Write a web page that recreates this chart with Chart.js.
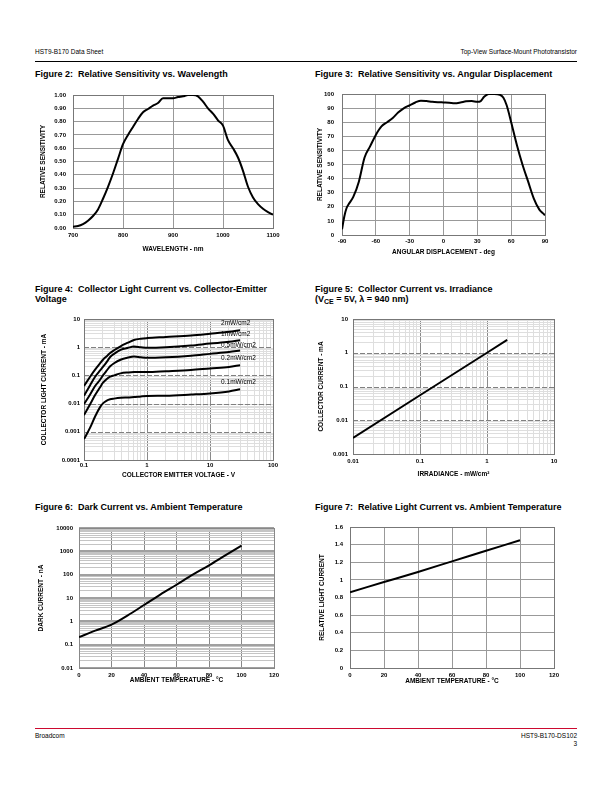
<!DOCTYPE html>
<html>
<head>
<meta charset="utf-8">
<script src="https://cdn.jsdelivr.net/npm/chart.js@4.4.1/dist/chart.umd.min.js"></script>
<style>
  html, body { margin: 0; padding: 0; background: #fff; }
  body { position: relative; width: 612px; height: 792px; overflow: hidden;
         font-family: "Liberation Sans", Arial, Helvetica, sans-serif; color: #000; }
  .txt { position: absolute; white-space: nowrap; line-height: 1; }
  .small { font-size: 6.5px; }
  .fig { font-size: 9px; font-weight: bold; line-height: 10px; }
  .rule { position: absolute; left: 35px; width: 542px; }
  canvas { position: absolute; }
</style>
</head>
<body>

<div class="txt small" style="left:35px; top:49px">HST9-B170 Data Sheet</div>
<div class="txt small" style="right:35px; top:49px">Top-View Surface-Mount Phototransistor</div>
<div class="rule" style="top:61px; height:1px; background:#000"></div>

<div class="txt fig" style="left:35px; top:69px">Figure 2:&nbsp; Relative Sensitivity vs. Wavelength</div>
<div class="txt fig" style="left:315px; top:69px">Figure 3:&nbsp; Relative Sensitivity vs. Angular Displacement</div>
<div class="txt fig" style="left:35px; top:284px">Figure 4:&nbsp; Collector Light Current vs. Collector-Emitter<br>Voltage</div>
<div class="txt fig" style="left:315px; top:284px">Figure 5:&nbsp; Collector Current vs. Irradiance<br>(V<span style="font-size:7px; vertical-align:-2px">CE</span> = 5V, &lambda; = 940 nm)</div>
<div class="txt fig" style="left:35px; top:502px">Figure 6:&nbsp; Dark Current vs. Ambient Temperature</div>
<div class="txt fig" style="left:315px; top:502px">Figure 7:&nbsp; Relative Light Current vs. Ambient Temperature</div>

<div class="rule" style="top:728px; height:1px; background:#cc092f"></div>
<div class="txt small" style="left:35px; top:733px">Broadcom</div>
<div class="txt small" style="right:35px; top:733px">HST9-B170-DS102</div>
<div class="txt small" style="right:35px; top:741px">3</div>

<script>
// ---- Figure 2 : relative sensitivity vs wavelength
const wavelengthNm = [700, 710, 720, 730, 740, 750, 760, 770, 780, 790, 800, 810, 820, 830, 840, 850, 860, 870, 880, 890,
                      900, 910, 920, 930, 940, 950, 960, 970, 980, 990, 1000, 1010, 1020, 1030, 1040, 1050, 1060, 1070, 1080, 1090, 1100];
const sensByWavelength = [0.01, 0.015, 0.03, 0.055, 0.09, 0.14, 0.22, 0.31, 0.41, 0.52, 0.63, 0.70, 0.76, 0.82, 0.87, 0.895, 0.92, 0.94, 0.975, 0.975,
                          0.975, 0.985, 0.99, 1.0, 1.0, 0.99, 0.95, 0.90, 0.86, 0.81, 0.77, 0.66, 0.60, 0.53, 0.43, 0.31, 0.23, 0.18, 0.145, 0.12, 0.10];
const fig2XTicks = [700, 800, 900, 1000, 1100];
const fig2YTicks = [0, 0.1, 0.2, 0.3, 0.4, 0.5, 0.6, 0.7, 0.8, 0.9, 1.0];

// ---- Figure 3 : relative sensitivity vs angle
const angleDeg = [-90, -88, -86, -84, -80, -75, -70, -65, -60, -55, -50, -45, -40, -35, -30, -25, -20, -15, -10, -5, 0,
                  5, 10, 15, 20, 25, 30, 33, 36, 40, 45, 50, 53, 56, 60, 65, 70, 75, 80, 85, 88, 90];
const sensByAngle = [4, 13, 19, 22, 27, 38, 55, 63, 71, 77, 80, 83, 87, 90, 92, 94, 95.3, 95, 94.5, 94.2, 94,
                     93.8, 93.5, 94, 94.8, 95, 94.5, 95, 98, 100, 100, 99.5, 97.5, 92, 80, 64, 50, 38, 26, 18, 15.5, 14];
const fig3XTicks = [-90, -60, -30, 0, 30, 60, 90];
const fig3YTicks = [0, 10, 20, 30, 40, 50, 60, 70, 80, 90, 100];

// ---- Figure 4 : collector light current vs VCE
const vceVolts = [0.1, 0.125, 0.15, 0.18, 0.2, 0.23, 0.26, 0.3, 0.38, 0.5, 0.62, 0.8, 1, 2, 5, 10, 20, 30];
const ic2mW   = [0.042, 0.09, 0.16, 0.27, 0.36, 0.48, 0.62, 0.78, 1.08, 1.45, 1.8, 2.0, 2.1, 2.3, 2.6, 3.0, 3.5, 4.0];
const ic1mW   = [0.019, 0.045, 0.09, 0.15, 0.2, 0.3, 0.45, 0.58, 0.8, 0.95, 1.05, 1.0, 0.96, 1.0, 1.15, 1.35, 1.55, 1.77];
const ic05mW  = [0.0095, 0.021, 0.042, 0.07, 0.1, 0.15, 0.21, 0.27, 0.36, 0.43, 0.47, 0.44, 0.42, 0.44, 0.5, 0.58, 0.67, 0.76];
const ic02mW  = [0.0039, 0.0095, 0.02, 0.038, 0.055, 0.075, 0.09, 0.1, 0.118, 0.127, 0.131, 0.131, 0.131, 0.14, 0.155, 0.177, 0.2, 0.23];
const ic01mW  = [0.00055, 0.0014, 0.0035, 0.0075, 0.0102, 0.0128, 0.0142, 0.015, 0.016, 0.0165, 0.017, 0.018, 0.0187, 0.019, 0.021, 0.023, 0.027, 0.032];
const fig4Names = ['2mW/cm2', '1mW/cm2', '0.5mW/cm2', '0.2mW/cm2', '0.1mW/cm2'];
const fig4LabelV = 15;
const fig4LabelI = [7.0, 2.9, 1.17, 0.41, 0.058];
const fig4XDecades = [0.1, 1, 10, 100];
const fig4XLabels = ['0.1', '1', '10', '100'];
const fig4YDecades = [0.0001, 0.001, 0.01, 0.1, 1, 10];
const fig4YLabels = ['0.0001', '0.001', '0.01', '0.1', '1', '10'];

// ---- Figure 5 : collector current vs irradiance
const irradiance = [0.01, 0.1, 1, 2];
const icByIrr = [0.003, 0.055, 1.0, 2.4];
const fig5XDecades = [0.01, 0.1, 1, 10];
const fig5XLabels = ['0.01', '0.1', '1', '10'];
const fig5YDecades = [0.001, 0.01, 0.1, 1, 10];
const fig5YLabels = ['0.001', '0.01', '0.1', '1', '10'];

// ---- Figure 6 : dark current vs temperature
const darkTempC = [0, 10, 20, 30, 40, 50, 60, 70, 80, 90, 100];
const darkCurrentNa = [0.21, 0.4, 0.72, 1.8, 5, 14, 37, 100, 250, 670, 1750];
const fig6XTicks = [0, 20, 40, 60, 80, 100, 120];
const fig6YDecades = [0.01, 0.1, 1, 10, 100, 1000, 10000];
const fig6YLabels = ['0.01', '0.1', '1', '10', '100', '1000', '10000'];

// ---- Figure 7 : relative light current vs temperature
const lightTempC = [0, 20, 40, 60, 80, 100];
const relLightCurrent = [0.86, 0.975, 1.09, 1.21, 1.33, 1.45];
const fig7XTicks = [0, 20, 40, 60, 80, 100, 120];
const fig7YTicks = [0, 0.2, 0.4, 0.6, 0.8, 1, 1.2, 1.4, 1.6];

const FONT = '"Liberation Sans", Arial, Helvetica, sans-serif';
Chart.defaults.font.family = FONT;
Chart.defaults.font.size = 6;
Chart.defaults.font.weight = 'bold';
Chart.defaults.color = '#000';

const PAD_T = 6, PAD_R = 14;

function mountCanvas(g) {
    const c = document.createElement('canvas');
    const w = g.r - g.l + g.yW + PAD_R;
    const h = g.b - g.t + PAD_T + g.xH;
    c.width = w; c.height = h;
    c.style.left = (g.l - g.yW) + 'px';
    c.style.top = (g.t - PAD_T) + 'px';
    c.style.width = w + 'px';
    c.style.height = h + 'px';
    document.body.appendChild(c);
    return c;
}

function isDecade(v) {
    const l = Math.log10(v);
    return Math.abs(l - Math.round(l)) < 1e-6;
}

function logTicks(decades) {
    const out = [];
    decades.forEach((d, i) => {
        out.push(d);
        if (i < decades.length - 1) {
            for (let k = 2; k <= 9; k++) out.push(+(d * k).toPrecision(6));
        }
    });
    return out;
}

function decadeLabel(decades, labels) {
    return v => {
        if (!isDecade(v)) return '';
        const i = decades.findIndex(d => Math.abs(Math.log10(d) - Math.log10(v)) < 1e-6);
        return i >= 0 ? labels[i] : '';
    };
}

function axisTitle(text) {
    return { display: true, text, color: '#000', padding: 0, font: { size: 6.5, weight: 'bold' } };
}

function xAxis(g, title) {
    return {
        position: 'bottom',
        title: axisTitle(title),
        ticks: { padding: g.xPad, maxRotation: 0, autoSkip: false },
        grid: { drawTicks: false, color: '#999' },
        border: { display: false },
        afterFit(s) { s.height = g.xH; s.paddingLeft = 0; s.paddingRight = 0; s.paddingTop = 0; s.paddingBottom = 0; }
    };
}

function yAxis(g, title) {
    return {
        position: 'left',
        title: axisTitle(title),
        ticks: { padding: g.yPad, autoSkip: false },
        grid: { drawTicks: false, color: '#999' },
        border: { display: false },
        afterFit(s) { s.width = g.yW; s.paddingLeft = 0; s.paddingRight = 0; s.paddingTop = 0; s.paddingBottom = 0; }
    };
}

// linear axis with ticks taken from a list
function linear(axis, ticks, fmt) {
    axis.type = 'linear';
    axis.min = ticks[0];
    axis.max = ticks[ticks.length - 1];
    axis.afterBuildTicks = s => { s.ticks = ticks.map(v => ({ value: v })); };
    axis.ticks.callback = fmt || (v => String(v));
    return axis;
}

// logarithmic axis with 1..9 ticks per decade, labels only at decades
function logarithmic(axis, decades, labels, gridColor, gridWidth) {
    axis.type = 'logarithmic';
    axis.min = decades[0];
    axis.max = decades[decades.length - 1];
    axis.afterBuildTicks = s => { s.ticks = logTicks(decades).map(v => ({ value: v })); };
    axis.ticks.callback = decadeLabel(decades, labels);
    axis.grid.color = gridColor;
    axis.grid.lineWidth = gridWidth;
    return axis;
}

// frame around the plot area
const framePlugin = {
    id: 'frame',
    beforeDatasetsDraw(chart, args, opts) {
        const a = chart.chartArea, ctx = chart.ctx;
        ctx.save();
        ctx.strokeStyle = opts.color || '#777';
        ctx.lineWidth = 1;
        ctx.strokeRect(Math.round(a.left) + 0.5, Math.round(a.top) + 0.5,
                       Math.round(a.right - a.left), Math.round(a.bottom - a.top));
        ctx.restore();
    }
};

// dashed horizontal lines at decades (fig 4, 5)
const dashPlugin = {
    id: 'dashLines',
    beforeDatasetsDraw(chart, args, opts) {
        const y = chart.scales.y, a = chart.chartArea, ctx = chart.ctx;
        ctx.save();
        ctx.strokeStyle = '#808080';
        ctx.lineWidth = 1;
        ctx.setLineDash([5, 2]);
        (opts.values || []).forEach(v => {
            const py = Math.round(y.getPixelForValue(v)) + 0.5;
            ctx.beginPath();
            ctx.moveTo(a.left, py);
            ctx.lineTo(a.right, py);
            ctx.stroke();
        });
        ctx.restore();
    }
};

// text labels next to curves (fig 4)
const curveLabelPlugin = {
    id: 'curveLabels',
    afterDatasetsDraw(chart) {
        const { x, y } = chart.scales, ctx = chart.ctx;
        ctx.save();
        ctx.font = '6.5px ' + FONT;
        ctx.fillStyle = '#000';
        ctx.textAlign = 'left';
        ctx.textBaseline = 'middle';
        fig4Names.forEach((name, i) => {
            ctx.fillText(name, x.getPixelForValue(fig4LabelV), y.getPixelForValue(fig4LabelI[i]));
        });
        ctx.restore();
    }
};

function line(xs, ys, smooth) {
    const ds = {
        data: xs.map((x, i) => ({ x, y: ys[i] })),
        borderColor: '#000',
        borderWidth: 2,
        pointRadius: 0,
        fill: false,
        tension: 0
    };
    if (smooth) ds.cubicInterpolationMode = 'monotone';
    return ds;
}

function baseOptions(scales, pluginOpts) {
    return {
        responsive: false,
        animation: false,
        devicePixelRatio: 1,
        layout: { padding: { top: PAD_T, right: PAD_R, left: 0, bottom: 0 } },
        plugins: Object.assign({ legend: { display: false }, tooltip: { enabled: false } }, pluginOpts || {}),
        scales
    };
}

const minorLight = '#dedede';
const majorGray = '#8a8a8a';

// ---------- Figure 2
const g2 = { l: 73, t: 95, r: 273, b: 228, yW: 34, xH: 25, yPad: 7, xPad: 4 };
new Chart(mountCanvas(g2), {
    type: 'line',
    data: { datasets: [line(wavelengthNm, sensByWavelength, true)] },
    options: baseOptions({
        x: linear(xAxis(g2, 'WAVELENGTH - nm'), fig2XTicks),
        y: linear(yAxis(g2, 'RELATIVE SENSITIVITY'), fig2YTicks, v => v.toFixed(2))
    }, { frame: { color: '#777' } }),
    plugins: [framePlugin]
});

// ---------- Figure 3
const g3 = { l: 342, t: 94, r: 545, b: 235, yW: 26, xH: 21, yPad: 8, xPad: 3 };
new Chart(mountCanvas(g3), {
    type: 'line',
    data: { datasets: [line(angleDeg, sensByAngle, true)] },
    options: baseOptions({
        x: linear(xAxis(g3, 'ANGULAR DISPLACEMENT - deg'), fig3XTicks),
        y: linear(yAxis(g3, 'RELATIVE SENSITIVITY'), fig3YTicks)
    }, { frame: { color: '#777' } }),
    plugins: [framePlugin]
});

// ---------- Figure 4
const g4 = { l: 84, t: 319, r: 273, b: 460, yW: 44, xH: 19, yPad: 4, xPad: 2 };
new Chart(mountCanvas(g4), {
    type: 'line',
    data: { datasets: [ic2mW, ic1mW, ic05mW, ic02mW, ic01mW].map(s => line(vceVolts, s, true)) },
    options: baseOptions({
        x: logarithmic(xAxis(g4, 'COLLECTOR EMITTER VOLTAGE - V'), fig4XDecades, fig4XLabels,
            ctx => isDecade(ctx.tick.value) ? majorGray : minorLight, 1),
        y: logarithmic(yAxis(g4, 'COLLECTOR LIGHT CURRENT - mA'), fig4YDecades, fig4YLabels,
            ctx => isDecade(ctx.tick.value) ? 'rgba(0,0,0,0)' : minorLight, 1)
    }, { dashLines: { values: fig4YDecades.slice(1, -1) }, frame: { color: '#777' } }),
    plugins: [dashPlugin, framePlugin, curveLabelPlugin]
});

// ---------- Figure 5
const g5 = { l: 353, t: 319, r: 554, b: 454, yW: 36, xH: 24, yPad: 5, xPad: 4 };
new Chart(mountCanvas(g5), {
    type: 'line',
    data: { datasets: [line(irradiance, icByIrr, false)] },
    options: baseOptions({
        x: logarithmic(xAxis(g5, 'IRRADIANCE - mW/cm\u00B2'), fig5XDecades, fig5XLabels,
            ctx => isDecade(ctx.tick.value) ? majorGray : minorLight, 1),
        y: logarithmic(yAxis(g5, 'COLLECTOR CURRENT - mA'), fig5YDecades, fig5YLabels,
            ctx => isDecade(ctx.tick.value) ? 'rgba(0,0,0,0)' : minorLight, 1)
    }, { dashLines: { values: fig5YDecades.slice(1, -1) }, frame: { color: '#777' } }),
    plugins: [dashPlugin, framePlugin]
});

// ---------- Figure 6
const g6 = { l: 79, t: 528, r: 274, b: 668, yW: 42, xH: 16, yPad: 6, xPad: 4 };
const fig6X = linear(xAxis(g6, 'AMBIENT TEMPERATURE - \u00B0C'), fig6XTicks);
fig6X.grid.color = '#888';
new Chart(mountCanvas(g6), {
    type: 'line',
    data: { datasets: [line(darkTempC, darkCurrentNa, true)] },
    options: baseOptions({
        x: fig6X,
        y: logarithmic(yAxis(g6, 'DARK CURRENT - nA'), fig6YDecades, fig6YLabels,
            ctx => isDecade(ctx.tick.value) ? '#a0a0a0' : '#c4c4c4',
            ctx => isDecade(ctx.tick.value) ? 2 : 1)
    }, { frame: { color: '#888' } }),
    plugins: [framePlugin]
});

// ---------- Figure 7
const g7 = { l: 350, t: 527, r: 554, b: 668, yW: 32, xH: 17, yPad: 7, xPad: 4 };
new Chart(mountCanvas(g7), {
    type: 'line',
    data: { datasets: [line(lightTempC, relLightCurrent, true)] },
    options: baseOptions({
        x: linear(xAxis(g7, 'AMBIENT TEMPERATURE - \u00B0C'), fig7XTicks),
        y: linear(yAxis(g7, 'RELATIVE LIGHT CURRENT'), fig7YTicks)
    }, { frame: { color: '#777' } }),
    plugins: [framePlugin]
});
</script>
</body>
</html>
